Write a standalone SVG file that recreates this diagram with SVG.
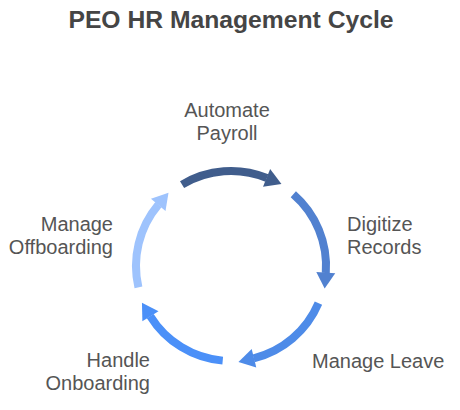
<svg xmlns="http://www.w3.org/2000/svg" width="460" height="410" viewBox="0 0 460 410">
<style>
.title{font-family:"Liberation Sans",Arial,sans-serif;font-size:24.7px;font-weight:bold;fill:#454545}
.lbl{font-family:"Liberation Sans",Arial,sans-serif;font-size:20px;fill:#555555}
.arc{fill:none;stroke-width:8;stroke-linecap:butt}
</style>
<rect width="460" height="410" fill="#ffffff"/>
<text class="title" x="231" y="28" text-anchor="middle">PEO HR Management Cycle</text>
<g id="connectors">
<g id="arrow1" transform="rotate(0 231 266)">
<path class="arc" stroke="#405d8c" d="M 182.07 184.57 A 95 95 0 0 1 266.9 178.0"/>
<polygon fill="#405d8c" points="270.15,169.11 281.43,183.91 263.03,186.72"/>
</g>
<g id="arrow2" transform="rotate(72 231 266)">
<path class="arc" stroke="#5181d0" d="M 182.07 184.57 A 95 95 0 0 1 266.9 178.0"/>
<polygon fill="#5181d0" points="270.15,169.11 281.43,183.91 263.03,186.72"/>
</g>
<g id="arrow3" transform="rotate(144 231 266)">
<path class="arc" stroke="#4e8be8" d="M 182.07 184.57 A 95 95 0 0 1 266.9 178.0"/>
<polygon fill="#4e8be8" points="270.15,169.11 281.43,183.91 263.03,186.72"/>
</g>
<g id="arrow4" transform="rotate(216 231 266)">
<path class="arc" stroke="#4b90f8" d="M 182.07 184.57 A 95 95 0 0 1 266.9 178.0"/>
<polygon fill="#4b90f8" points="270.15,169.11 281.43,183.91 263.03,186.72"/>
</g>
<g id="arrow5" transform="rotate(288 231 266)">
<path class="arc" stroke="#9ec3fd" d="M 182.07 184.57 A 95 95 0 0 1 266.9 178.0"/>
<polygon fill="#9ec3fd" points="270.15,169.11 281.43,183.91 263.03,186.72"/>
</g>
</g>
<g id="node-payroll">
<text class="lbl" x="227" y="117" text-anchor="middle">Automate</text>
<text class="lbl" x="227" y="140" text-anchor="middle">Payroll</text>
</g>
<g id="node-records">
<text class="lbl" x="347" y="231">Digitize</text>
<text class="lbl" x="347" y="254">Records</text>
</g>
<g id="node-leave">
<text class="lbl" x="312" y="368">Manage Leave</text>
</g>
<g id="node-onboarding">
<text class="lbl" x="150" y="367" text-anchor="end">Handle</text>
<text class="lbl" x="150" y="390" text-anchor="end">Onboarding</text>
</g>
<g id="node-offboarding">
<text class="lbl" x="113" y="231" text-anchor="end">Manage</text>
<text class="lbl" x="113" y="254" text-anchor="end">Offboarding</text>
</g>
</svg>
